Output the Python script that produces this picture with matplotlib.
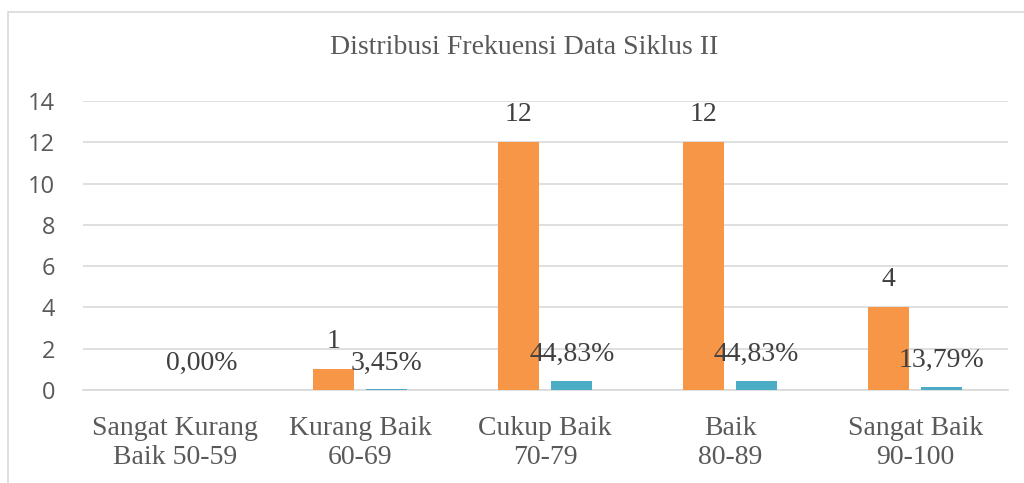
import numpy as np
import matplotlib.pyplot as plt
from matplotlib.patches import Rectangle

categories = ['Sangat Kurang\nBaik 50-59', 'Kurang Baik\n60-69', 'Cukup Baik\n70-79',
              'Baik\n80-89', 'Sangat Baik\n90-100']
frekuensi = [0, 1, 12, 12, 4]
persen = [0.0, 0.0345, 0.4483, 0.4483, 0.1379]

orange = '#F79646'
teal = '#4BACC6'
text_col = '#595959'
grid_col = '#D9D9D9'
serif = ['Liberation Serif', 'DejaVu Serif']

fig = plt.figure(figsize=(10.24, 4.83), dpi=100)
ax = fig.add_axes([0.081, 0.1925, 0.903, 0.5985])

# chart border (cut off at right and bottom like the source)
fig.patches.append(Rectangle((8 / 1024, -0.1), 1.2, 1 - 12 / 483 + 0.1,
                             transform=fig.transFigure, fill=False,
                             edgecolor=grid_col, linewidth=1.2))

x = np.arange(len(categories))
w = 0.222
off = 0.143
b1 = ax.bar(x - off, frekuensi, w, color=orange, zorder=3)
b2 = ax.bar(x + off, persen, w, color=teal, zorder=3)

for rect, v in zip(b1, frekuensi):
    if v == 0:
        continue
    ax.annotate(str(v), (rect.get_x() + rect.get_width() / 2, v),
                xytext=(0, 20), textcoords='offset points', ha='center', va='center',
                fontsize=20, color='#404040', family=serif)

for rect, v in zip(b2, persen):
    lab = f'{v * 100:.2f}%'.replace('.', ',')
    ax.annotate(lab, (rect.get_x() + rect.get_width() / 2, v),
                xytext=(0, 19), textcoords='offset points', ha='center', va='center',
                fontsize=20, color='#404040', family=serif)

ax.set_xlim(-0.5, 4.5)
ax.set_ylim(0, 14)
ax.set_yticks(range(0, 15, 2))
ax.yaxis.grid(True, color=grid_col, linewidth=1.2, zorder=0)
ax.set_axisbelow(True)
for s in ['top', 'right', 'left']:
    ax.spines[s].set_visible(False)
ax.spines['bottom'].set_color(grid_col)
ax.spines['bottom'].set_linewidth(1.2)
ax.tick_params(axis='both', length=0)
ax.tick_params(axis='y', pad=20)
ax.tick_params(axis='x', pad=19)

ax.set_xticks(x)
ax.set_xticklabels(categories, fontsize=20, color=text_col, family=serif, linespacing=1.2)
for t in ax.get_yticklabels():
    t.set_fontsize(17)
    t.set_color(text_col)
    t.set_family(['Open Sans', 'DejaVu Sans'])

fig.text(0.512, 1 - 48 / 483, 'Distribusi Frekuensi Data Siklus II', ha='center', va='center',
         fontsize=20, color=text_col, family=serif)

fig.savefig('out.png', dpi=100)
